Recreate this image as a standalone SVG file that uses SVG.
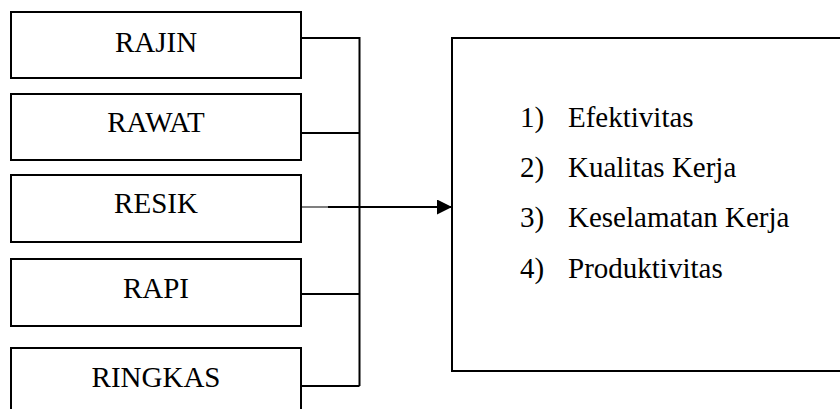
<svg xmlns="http://www.w3.org/2000/svg" width="840" height="409" viewBox="0 0 840 409">
<defs>
<style>
.box{fill:#fff;stroke:#000;stroke-width:2}
.t{font-family:"Liberation Serif","Times New Roman",serif;font-size:29px;fill:#000}
.c{text-anchor:middle}
.ln{fill:none;stroke:#000;stroke-width:2}
</style>
<marker id="ah" markerWidth="15" markerHeight="15" refX="15" refY="7.5" orient="auto" markerUnits="userSpaceOnUse">
<path d="M0,0 L15,7.5 L0,15 Z" fill="#000"/>
</marker>
</defs>
<rect width="840" height="409" fill="#fff"/>
<g id="connectors">
<path class="ln" d="M301,38 H359.5 V386 M301,133 H359.5 M301,294 H359.5 M301,386 H359.5"/>
<line x1="301" y1="207" x2="329" y2="207" stroke="#555" stroke-width="1.5"/>
<line x1="328" y1="207" x2="452" y2="207" stroke="#000" stroke-width="2" marker-end="url(#ah)"/>
</g>
<g id="rajin"><rect class="box" x="11" y="12" width="290" height="66"/><text class="t c" x="156" y="52">RAJIN</text></g>
<g id="rawat"><rect class="box" x="11" y="94" width="290" height="66"/><text class="t c" x="156" y="132">RAWAT</text></g>
<g id="resik"><rect class="box" x="11" y="175" width="290" height="67"/><text class="t c" x="156" y="213">RESIK</text></g>
<g id="rapi"><rect class="box" x="11" y="259" width="290" height="67"/><text class="t c" x="156" y="298">RAPI</text></g>
<g id="ringkas"><rect class="box" x="11" y="348" width="290" height="80"/><text class="t c" x="156" y="387">RINGKAS</text></g>
<g id="hasil">
<rect class="box" x="452" y="38" width="400" height="333"/>
<text class="t" x="520" y="127">1)</text><text class="t" x="568" y="127">Efektivitas</text>
<text class="t" x="520" y="177">2)</text><text class="t" x="568" y="177">Kualitas Kerja</text>
<text class="t" x="520" y="227">3)</text><text class="t" x="568" y="227">Keselamatan Kerja</text>
<text class="t" x="520" y="278">4)</text><text class="t" x="568" y="278">Produktivitas</text>
</g>
</svg>
